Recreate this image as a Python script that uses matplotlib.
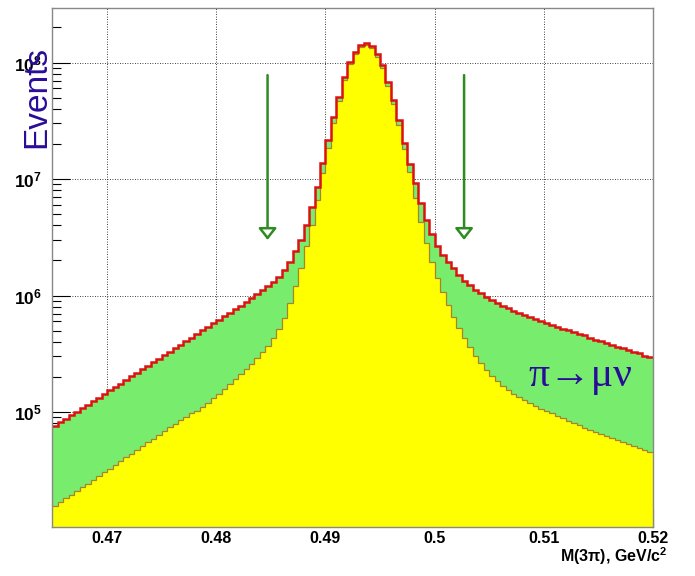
import numpy as np
import matplotlib.pyplot as plt
from matplotlib.ticker import FixedLocator, LogLocator, NullFormatter

plt.rcParams['font.family'] = ['Liberation Sans', 'DejaVu Sans']
plt.rcParams['mathtext.fontset'] = 'custom'
plt.rcParams['mathtext.rm'] = 'Liberation Sans'
plt.rcParams['mathtext.bf'] = 'Liberation Sans:bold'

# binning: 110 bins of 0.5 MeV between 0.465 and 0.52 GeV
edges = np.linspace(0.465, 0.52, 111)

# total (signal + pi->mu nu background), events per bin
total = [
    7.59e4, 8.13e4, 8.72e4, 9.35e4, 1.00e5, 1.08e5, 1.15e5, 1.24e5, 1.33e5, 1.42e5,
    1.53e5, 1.64e5, 1.75e5, 1.88e5, 2.02e5, 2.17e5, 2.32e5, 2.49e5, 2.67e5, 2.86e5,
    3.07e5, 3.30e5, 3.54e5, 3.79e5, 4.07e5, 4.36e5, 4.68e5, 5.02e5, 5.38e5, 5.77e5,
    6.19e5, 6.63e5, 7.11e5, 7.63e5, 8.17e5, 8.79e5, 9.52e5, 1.03e6, 1.11e6, 1.21e6,
    1.31e6, 1.44e6, 1.66e6, 1.94e6, 2.41e6, 2.99e6, 4.03e6, 5.75e6, 8.54e6, 1.37e7,
    2.16e7, 3.41e7, 5.06e7, 7.51e7, 1.01e8, 1.23e8, 1.41e8, 1.47e8, 1.39e8, 1.18e8,
    9.52e7, 6.81e7, 4.77e7, 3.21e7, 2.04e7, 1.35e7, 9.25e6, 6.23e6, 4.45e6, 3.37e6,
    2.66e6, 2.23e6, 1.94e6, 1.72e6, 1.50e6, 1.33e6, 1.23e6, 1.11e6, 1.05e6, 9.70e5,
    9.14e5, 8.62e5, 8.13e5, 7.81e5, 7.37e5, 7.08e5, 6.80e5, 6.54e5, 6.29e5, 6.10e5,
    5.86e5, 5.63e5, 5.42e5, 5.21e5, 5.06e5, 4.86e5, 4.67e5, 4.54e5, 4.36e5, 4.19e5,
    4.07e5, 3.91e5, 3.76e5, 3.65e5, 3.54e5, 3.40e5, 3.27e5, 3.18e5, 3.05e5, 2.97e5,
]

# signal (K -> 3pi) only
signal = [
    1.56e4, 1.68e4, 1.81e4, 1.95e4, 2.10e4, 2.26e4, 2.43e4, 2.62e4, 2.82e4, 3.04e4,
    3.27e4, 3.52e4, 3.79e4, 4.08e4, 4.40e4, 4.73e4, 5.10e4, 5.49e4, 5.91e4, 6.37e4,
    6.86e4, 7.38e4, 7.89e4, 8.46e4, 9.06e4, 9.71e4, 1.03e5, 1.10e5, 1.19e5, 1.31e5,
    1.43e5, 1.58e5, 1.74e5, 1.92e5, 2.12e5, 2.34e5, 2.58e5, 2.91e5, 3.27e5, 3.72e5,
    4.32e5, 5.16e5, 6.41e5, 8.62e5, 1.21e6, 1.72e6, 2.66e6, 4.03e6, 6.61e6, 1.13e7,
    1.85e7, 3.03e7, 4.68e7, 7.08e7, 9.71e7, 1.18e8, 1.36e8, 1.41e8, 1.33e8, 1.11e8,
    8.97e7, 6.28e7, 4.40e7, 2.91e7, 1.81e7, 1.15e7, 6.87e6, 4.28e6, 2.82e6, 1.94e6,
    1.41e6, 1.07e6, 8.28e5, 6.54e5, 5.26e5, 4.32e5, 3.61e5, 3.03e5, 2.64e5, 2.30e5,
    2.04e5, 1.85e5, 1.67e5, 1.55e5, 1.43e5, 1.35e5, 1.27e5, 1.19e5, 1.13e5, 1.07e5,
    1.02e5, 9.71e4, 9.24e4, 8.80e4, 8.37e4, 8.05e4, 7.74e4, 7.36e4, 7.00e4, 6.73e4,
    6.47e4, 6.22e4, 5.98e4, 5.75e4, 5.53e4, 5.31e4, 5.11e4, 4.91e4, 4.72e4, 4.54e4,
]

# mass window cuts (arrows)
cuts = [0.4847, 0.5027]
arrow_top = 7.8e7
arrow_tip = 3.0e6

xticks = [0.47, 0.48, 0.49, 0.50, 0.51, 0.52]
xticklabels = ['0.47', '0.48', '0.49', '0.5', '0.51', '0.52']
yticks = [1e5, 1e6, 1e7, 1e8]
yticklabels = [r'$\mathbf{10^{5}}$', r'$\mathbf{10^{6}}$', r'$\mathbf{10^{7}}$', r'$\mathbf{10^{8}}$']

fig = plt.figure(figsize=(6.95, 5.76), dpi=100)
ax = fig.add_axes([0.0755, 0.0851, 0.864, 0.901])

green = '#78ec6c'
yellow = '#ffff00'
red = '#dd1111'
olive = '#a8832e'
blue = '#2a0c9a'
arrow_green = '#2e8b22'

ax.stairs(total, edges, fill=True, facecolor=green, edgecolor='none', baseline=1)
ax.stairs(signal, edges, fill=True, facecolor=yellow, edgecolor='none', baseline=1)
ax.stairs(signal, edges, color=olive, lw=0.9, baseline=None)
ax.stairs(total, edges, color=red, lw=1.8, baseline=None)

for c in cuts:
    ax.annotate('', xy=(c, arrow_tip), xytext=(c, arrow_top),
                arrowprops=dict(arrowstyle='-|>,head_length=0.7,head_width=0.55',
                                ec=arrow_green, fc='white', lw=1.8,
                                shrinkA=0, shrinkB=0, mutation_scale=10))

ax.text(0.5134, 2.05e5, 'π→μν', ha='center', va='center', fontsize=30,
        color=blue, family=['Liberation Serif', 'DejaVu Serif'])

ax.set_yscale('log')
ax.set_xlim(0.465, 0.52)
ax.set_ylim(1.03e4, 2.94e8)

ax.xaxis.set_major_locator(FixedLocator(xticks))
ax.set_xticklabels(xticklabels, fontweight='bold')
ax.yaxis.set_major_locator(FixedLocator(yticks))
ax.set_yticklabels(yticklabels)
ax.yaxis.set_minor_locator(LogLocator(base=10, subs=np.arange(2, 10)))
ax.yaxis.set_minor_formatter(NullFormatter())

ax.tick_params(axis='y', which='major', direction='in', length=13, width=0.8, pad=8, labelsize=12.5)
ax.tick_params(axis='y', which='minor', direction='in', length=6.5, width=0.8)
ax.tick_params(axis='x', which='major', direction='in', length=13, width=0.8, pad=3, labelsize=11.5)

ax.set_axisbelow(True)
ax.grid(True, which='major', linestyle=(0, (1, 2)), color='black', lw=0.6)
for s in ax.spines.values():
    s.set_color('#888888')
    s.set_linewidth(1)

fig.text(37 / 695, 1 - 96.5 / 576, 'Events', rotation=90, ha='center', va='center',
         fontsize=24, color=blue)
fig.text(667 / 695, 1 - 556 / 576, r'M(3π), GeV/c$^{\mathbf{2}}$', ha='right', va='center',
         fontsize=11.5, fontweight='bold')

fig.savefig('out.png', dpi=100)
